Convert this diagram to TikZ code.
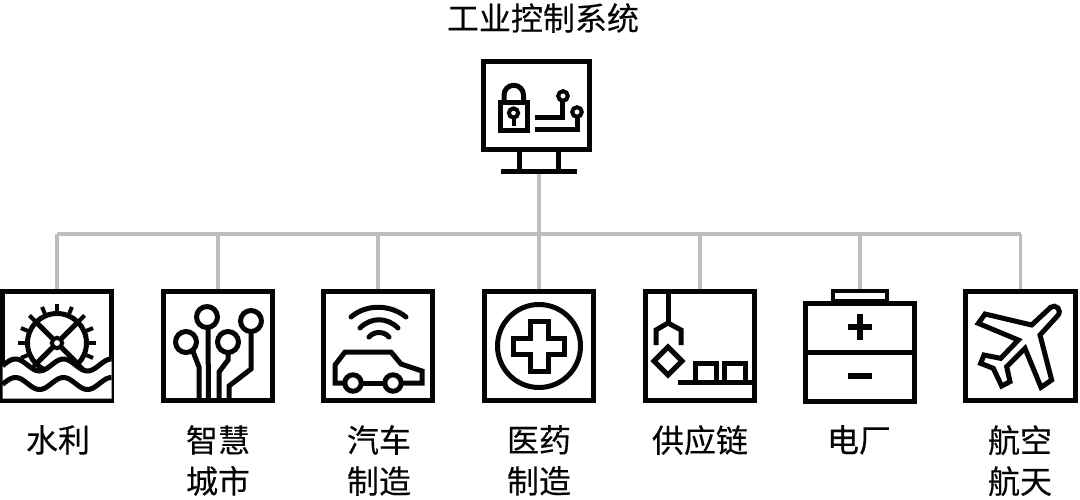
\documentclass[tikz,border=0pt]{standalone}
\usepackage{fontspec}
\newfontfamily\cjk[FakeBold=0.25]{Noto Sans CJK SC}
\definecolor{conn}{HTML}{BEBEBE}
\definecolor{ink}{HTML}{050505}
\tikzset{
  x=1pt,y=-1pt,
  iconbox/.style={draw=ink,line width=5pt,minimum width=109.5pt,minimum height=109.5pt,inner sep=0pt,fill=white},
  icon/.style={draw=ink,line width=5pt,line join=miter},
  thin icon/.style={draw=ink,line width=4pt},
  connline/.style={draw=conn,line width=3.6pt},
  capt/.style={font=\cjk\fontsize{32}{41}\selectfont,align=center,anchor=north,inner sep=0pt,text=ink},
}
\begin{document}
\begin{tikzpicture}
\useasboundingbox (0,0) rectangle (1080,499);
\fill[white] (0,0) rectangle (1080,499);
% boxes
\node[iconbox] (b1) at (57,346) {};
\node[iconbox] (b2) at (218,346) {};
\node[iconbox] (b3) at (378,346) {};
\node[iconbox] (b4) at (539,346) {};
\node[iconbox] (b5) at (700,346) {};
\node[draw=ink,line width=5pt,minimum width=108.5pt,minimum height=98pt,inner sep=0pt] (b6) at (860,352) {};
\node[iconbox] (b7) at (1020.5,346) {};
\node[draw=ink,line width=5pt,minimum width=106.5pt,minimum height=88.5pt,inner sep=0pt] (mon) at (536.5,105.5) {};
\node[draw=ink,line width=4.6pt,minimum width=54pt,minimum height=10pt,inner sep=0pt] (term) at (860,296) {};
\coordinate (base) at (539,171);
\coordinate (bus) at (539,234);
% connectors
\draw[connline] (base) -- (bus);
\draw[connline] (b1.north |- bus) -- (b7.north |- bus);
\draw[connline] (b1.north |- bus) -- (b1.north);
\draw[connline] (b2.north |- bus) -- (b2.north);
\draw[connline] (b3.north |- bus) -- (b3.north);
\draw[connline] (b4.north |- bus) -- (b4.north);
\draw[connline] (b5.north |- bus) -- (b5.north);
\draw[connline] (term.north |- bus) -- (term.north);
\draw[connline] (b7.north |- bus) -- (b7.north);
% monitor
\draw[icon] (519,152) -- (519,171) (558,152) -- (558,171);
\draw[icon] (501,171) -- (577,171);
\draw[icon] (500.5,102.5) rectangle (527.5,130.5);
\draw[icon] (504,102) -- (504,95) arc[start angle=180,end angle=360,radius=9.75] -- (523.5,102);
\draw[thin icon] (513.5,113) circle (4.6);
\draw[icon,line width=4pt] (513.5,116) -- (513.5,126);
\draw[icon] (535,117) -- (562,117) -- (562,101);
\draw[thin icon] (563,96) circle (4.8);
\draw[icon] (535,129.3) -- (577,129.3) -- (577,117);
\draw[thin icon] (577,112) circle (4.8);
% wheel
\begin{scope}[shift={(57,343)}]
\foreach \a in {0,22.5,...,337.5}{\draw[thin icon] (\a:28.5) -- (\a:39);}
\draw[icon] (0,0) circle (29.5);
\foreach \a in {45,135,225,315}{\draw[icon] (\a:5) -- (\a:30);}
\draw[thin icon] (0,0) circle (5.2);
\end{scope}
\fill[white,domain=2.5:111.5,samples=80] plot (\x,{365-6*cos(7.5*(\x-63.5))}) -- (111.5,398.5) -- (2.5,398.5) -- cycle;
\draw[icon,domain=2.5:111.5,samples=80] plot (\x,{365-6*cos(7.5*(\x-63.5))});
\draw[icon,domain=2.5:111.5,samples=80] plot (\x,{383.5-6*cos(7.5*(\x-63.5))});
% city
\draw[icon] (207,317) circle (10.5) (186,342) circle (10.5) (228,342) circle (10.5) (251,321) circle (10.5);
\draw[icon] (208,328) -- (208.5,400);
\draw[icon] (192,349) -- (199,367) -- (199,400);
\draw[icon] (228,353) -- (228,360) -- (219,372) -- (219,400);
\draw[icon] (251,332) -- (251,369) -- (229,386) -- (229,400);
% car
\draw[icon,line cap=round] (351,317) .. controls (366,304) and (390,304) .. (406,317);
\draw[icon,line cap=round] (360,328) .. controls (371,317) and (387,317) .. (398,328);
\draw[icon,line cap=round] (369,337) .. controls (374,331) and (384,331) .. (389,337);
\draw[icon] (345,383) -- (335,383) -- (335,365) -- (345,352) -- (391,352) -- (401,364) -- (422,371) -- (422,383) -- (401,383);
\draw[icon] (361,383) -- (385,383);
\draw[icon] (353,383) circle (8.2) (393,383) circle (8.2);
% medical
\draw[icon] (539,346) circle (41.5);
\draw[icon] (530,321) -- (548,321) -- (548,338) -- (564,338) -- (564,354) -- (548,354) -- (548,371) -- (530,371) -- (530,354) -- (513,354) -- (513,338) -- (530,338) -- cycle;
% supply
\draw[icon] (668,291) -- (668,323);
\draw[icon] (656,345) -- (656,330) -- (668,323) -- (681,330) -- (681,345);
\draw[icon] (668,347) -- (682,361) -- (668,375) -- (654,361) -- cycle;
\draw[icon] (678,382) -- (755,382);
\draw[icon] (695,382) -- (695,363) -- (716,363) -- (716,382);
\draw[icon] (724,382) -- (724,363) -- (745,363) -- (745,382);
% battery
\draw[icon] (806,352) -- (914,352);
\draw[icon,line width=5.4pt] (848,327) -- (872,327) (860,314) -- (860,340);
\draw[icon,line width=5.4pt] (848,376) -- (872,376);
% plane
\begin{scope}[shift={(960,280)},scale=1/3]
\draw[icon] (215,135) -- (272,82) .. controls (286,70) and (308,90) .. (293,107) -- (240,165) -- (275,300) -- (243,322) -- (195,205) -- (140,260) -- (150,305) -- (125,318) -- (100,265) -- (62,250) -- (72,225) -- (122,235) -- (175,180) -- (55,130) -- (75,102) -- cycle;
\end{scope}
% labels
\node[capt,anchor=center] (t0) at (543,18) {工业控制系统};
\node[capt] (t1) at (58,425) {水利};
\node[capt] (t2) at (218,425) {智慧\\城市};
\node[capt] (t3) at (379,425) {汽车\\制造};
\node[capt] (t4) at (539,425) {医药\\制造};
\node[capt] (t5) at (700,425) {供应链};
\node[capt] (t6) at (859,425) {电厂};
\node[capt] (t7) at (1020,425) {航空\\航天};
\end{tikzpicture}
\end{document}
